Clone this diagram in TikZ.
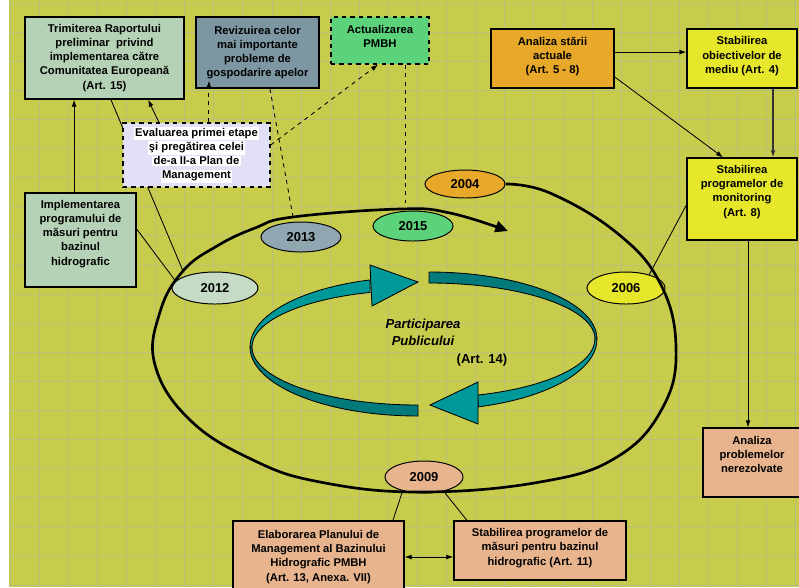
\documentclass[tikz,border=0pt]{standalone}
\usepackage{fontspec}
\setmainfont{Liberation Sans}
\usepackage{xcolor}
\usetikzlibrary{shapes.geometric, arrows.meta, calc}
\definecolor{bgyellow}{RGB}{200,204,76}
\definecolor{gridline}{RGB}{186,192,122}
\definecolor{paleteal}{RGB}{182,210,182}
\definecolor{slateblue}{RGB}{124,150,162}
\definecolor{mintgreen}{RGB}{92,210,122}
\definecolor{lavender}{RGB}{226,224,246}
\definecolor{deeporange}{RGB}{232,168,42}
\definecolor{lemon}{RGB}{230,230,42}
\definecolor{salmon}{RGB}{232,180,142}
\definecolor{lightteal}{RGB}{0,153,153}
\definecolor{darkteal}{RGB}{0,122,122}
\newcommand{\wl}[1]{{\setlength{\fboxsep}{0.9pt}\colorbox{white}{#1}}}

\begin{document}
\begin{tikzpicture}[x=0.025cm, y=-0.025cm,
    txt/.style={align=center, font=\fontsize{8}{10}\selectfont\bfseries, inner sep=1pt},
    box/.style={rectangle, draw=black, line width=0.9pt, txt},
    dbox/.style={box, dashed},
    yr/.style={ellipse, draw=black, line width=0.7pt, inner sep=0pt,
               minimum width=2cm, minimum height=0.75cm,
               font=\fontsize{9.2}{11}\selectfont\bfseries},
    fl/.style={-{Latex[length=5pt,width=3.5pt]}, line width=0.6pt},
    dfl/.style={fl, dashed},
    ln/.style={line width=0.6pt},
    rib/.style={draw=black, line width=0.6pt}
]
% background and grid
\useasboundingbox (0,0) rectangle (799,587);
\fill[bgyellow] (9,0) rectangle (799,587);
\foreach \i in {0,...,27}
  \draw[gridline, line width=0.5pt] ({10+29.1*\i},0) -- ({10+29.1*\i},587);
\foreach \j in {0,...,20}
  \draw[gridline, line width=0.5pt] (9,{3+29.1*\j}) -- (799,{3+29.1*\j});

% inner cycle (teal ribbons)
\filldraw[rib, fill=darkteal] (418,416) arc (90:180:168 and 69) -- (252,347)
  arc (180:90:166 and 58) -- cycle;
\filldraw[rib, fill=lightteal] (250,347) arc (180:253.4:168 and 70) -- (370,292.4)
  arc (253.2:180:166 and 57) -- cycle;
\filldraw[rib, fill=lightteal] (370,265) -- (418,282) -- (372,306) -- cycle;
\filldraw[rib, fill=darkteal] (429,272) arc (-90:0:168 and 67) -- (595,339)
  arc (0:-90:166 and 56) -- cycle;
\filldraw[rib, fill=lightteal] (597,339) arc (0:73:168 and 71) -- (478,395)
  arc (72.8:0:166 and 58.6) -- cycle;
\filldraw[rib, fill=lightteal] (478,382) -- (430,405) -- (478,424) -- cycle;
\node[font=\fontsize{9.3}{12}\selectfont\bfseries\itshape, align=center] (pub) at (423,332)
  {Participarea\\Publicului};
\node[font=\fontsize{9.3}{12}\selectfont\bfseries] (art14) at (482,360) {(Art. 14)};

% boxes
\node[box, fill=paleteal, minimum width=3.975cm, minimum height=2.05cm] (trim) at (104.5,58)
  {Trimiterea Raportului\\preliminar~~privind\\implementarea către\\Comunitatea Europeană\\(Art. 15)};
\node[box, fill=slateblue, minimum width=3.075cm, minimum height=1.775cm] (reviz) at (257.5,52.5)
  {Revizuirea celor\\mai importante\\probleme de\\gospodarire apelor};
\node[dbox, fill=mintgreen, minimum width=2.45cm, minimum height=1.175cm,
  label={[txt, yshift=0.1cm]center:{Actualizarea\\PMBH}}] (actual) at (380,40.5) {};
\node[box, fill=paleteal, minimum width=2.775cm, minimum height=2.35cm,
  label={[txt, yshift=0.15cm]center:{Implementarea\\programului de\\măsuri pentru\\bazinul\\hidrografic}}]
  (impl) at (80.5,240) {};
\node[box, fill=deeporange, minimum width=3.075cm, minimum height=1.475cm,
  label={[txt, yshift=0.06cm]center:{Analiza stării\\actuale\\(Art. 5 - 8)}}] (anst) at (552.5,58.5) {};
\node[box, fill=lemon, minimum width=2.75cm, minimum height=1.475cm,
  label={[txt, yshift=0.06cm]center:{Stabilirea\\obiectivelor de\\mediu (Art. 4)}}] (obj) at (742,58.5) {};
\node[box, fill=lemon, minimum width=2.75cm, minimum height=2.05cm,
  label={[txt, yshift=0.175cm]center:{Stabilirea\\programelor de\\monitoring\\(Art. 8)}}] (monit) at (742,199) {};
\node[box, fill=salmon, minimum width=2.45cm, minimum height=1.725cm,
  label={[txt, yshift=0.19cm]center:{Analiza\\problemelor\\nerezolvate}}] (probl) at (752,462.5) {};
\node[box, fill=salmon, minimum width=4.275cm, minimum height=1.8cm] (elab) at (318.5,557)
  {Elaborarea Planului de\\Management al Bazinului\\Hidrografic PMBH\\(Art. 13, Anexa. VII)};
\node[box, fill=salmon, minimum width=4.3cm, minimum height=1.475cm,
  label={[txt, yshift=0.06cm]center:{Stabilirea programelor de\\măsuri pentru bazinul\\hidrografic (Art. 11)}}]
  (masuri) at (540,550.5) {};

% years
\node[yr, fill=deeporange, minimum height=0.7cm] (y2004) at (465,184) {2004};
\node[yr, fill=slateblue!85!white] (y2013) at (301,237) {2013};
\node[yr, fill=mintgreen] (y2015) at (413,226) {2015};
\node[yr, fill=paleteal!80!white, minimum width=2.15cm, minimum height=0.8cm] (y2012) at (215,288) {2012};
\node[yr, fill=lemon, minimum width=1.95cm, minimum height=0.8cm] (y2006) at (626,288) {2006};
\node[yr, fill=salmon, minimum width=1.95cm, minimum height=0.8cm] (y2009) at (424,477) {2009};

\coordinate (c12) at (183,271);
\coordinate (c13) at (293,217);
\coordinate (c15) at (405,203);

% links passing behind the evaluation box
\draw[ln] ([xshift=0.16cm]trim.south) -- (c12);
\draw[ln, dashed] ([xshift=0.31cm]reviz.south) -- (c13);

\node[dbox, fill=lavender, minimum width=3.675cm, minimum height=1.6cm] (eval) at (196.5,155)
  {\wl{Evaluarea primei etape}\\\wl{şi pregătirea celei}\\\wl{de-a II-a Plan de}\\\wl{Management}};

% connectors
\draw[fl] ([xshift=-0.16cm]impl.north) -- ([xshift=-0.16cm]impl.north |- trim.south);
\draw[fl] ([xshift=-0.94cm]eval.north) -- ([xshift=1.09cm]trim.south);
\draw[ln] ([yshift=0.275cm]impl.east) -- (y2012.170);
\draw[dfl, shorten >=-0.2cm] ([xshift=0.31cm]eval.north) -- ([xshift=0.31cm]eval.north |- reviz.south);
\draw[dfl] ([yshift=0.25cm]eval.east) -- ([xshift=-0.05cm]actual.south);
\draw[ln, dashed] ([xshift=0.625cm]actual.south) -- ([xshift=0.625cm]actual.south |- c15);
\draw[fl] ([yshift=0.16cm]anst.east) -- ([yshift=0.16cm]anst.east -| obj.west);
\draw[fl] ([yshift=-0.46cm]anst.east) -- ([xshift=-0.475cm]monit.north);
\draw[fl, line width=1pt, black!80] ([xshift=0.775cm]obj.south) -- ([xshift=0.775cm]monit.north);
\draw[ln] ([yshift=-0.15cm]monit.west) -- (y2006.30);
\draw[fl] ([xshift=-0.1cm]probl.north |- monit.south) -- ([xshift=-0.1cm]probl.north);
\draw[ln] (y2009.213) -- ([xshift=1.86cm]elab.north);
\draw[ln] (y2009.-36) -- ([xshift=-1.825cm]masuri.north);
\draw[{Latex[length=5pt,width=3.5pt]}-{Latex[length=5pt,width=3.5pt]}, line width=0.6pt]
  (elab.east) -- (elab.east -| masuri.west);

% outer cycle
\draw[line width=1.9pt, -{Triangle[length=9pt,width=8pt]}] plot[smooth, tension=0.7] coordinates {
  (y2004.east) (550,193) (617,233) (660,283) (676,347) (663,407) (617,457) (540,482)
  (420,492) (320,482) (253,460) (190,420) (155,365) (160,312) (c12) (217,246)
  (255,228) (c13) (400,209) (450,213) (508,231)};
\end{tikzpicture}
\end{document}
